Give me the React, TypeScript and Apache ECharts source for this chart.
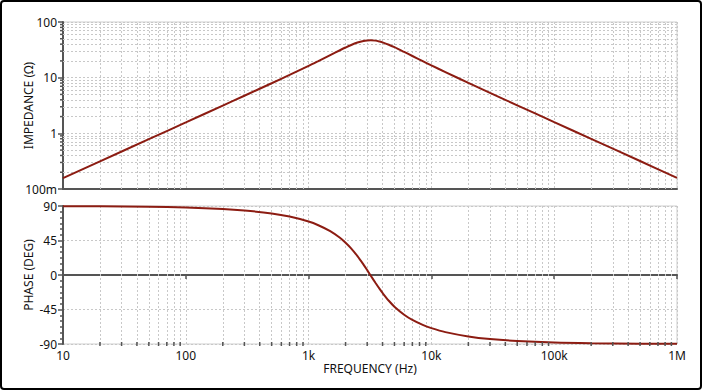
import React, { useEffect, useRef } from "react";
import * as echarts from "echarts";

// Frequency points (Hz)
const freq = [10, 20, 50, 100, 200, 300, 500, 700, 1000, 1200, 1500, 1800, 2000, 2200, 2500, 2800, 3000, 3200, 3500, 3800, 4000, 4500, 5000, 6000, 7000, 8500, 10000, 13000, 20000, 30000, 50000, 100000, 200000, 500000, 1000000];
// Impedance magnitude (ohm)
const impedance = [0.157, 0.314, 0.785, 1.57, 3.15, 4.73, 7.94, 11.2, 16.3, 19.9, 25.5, 31.1, 34.8, 38.3, 42.7, 45.7, 46.7, 47.0, 46.3, 44.5, 43.1, 39.1, 35.3, 29.0, 24.5, 19.8, 16.6, 12.6, 8.04, 5.33, 3.19, 1.59, 0.796, 0.318, 0.159];
// Phase (deg)
const phase = [89.8, 89.6, 89.0, 88.1, 86.2, 84.2, 80.3, 76.2, 69.7, 64.9, 57.2, 48.5, 42.1, 35.4, 24.6, 13.6, 6.4, -0.6, -10.1, -18.5, -23.4, -33.6, -41.3, -51.8, -58.6, -65.1, -69.3, -74.5, -80.1, -83.5, -86.1, -88.1, -89.0, -89.6, -89.8];

// Axis tick positions
const freqDecades = [10, 100, 1000, 10000, 100000];
const impDecades = [0.1, 1, 10];
const minorMult = [2, 3, 4, 5, 6, 7, 8, 9];

const freqMinor: number[] = [];
freqDecades.forEach((d) => minorMult.forEach((m) => freqMinor.push(+(d * m).toPrecision(6))));
const impMinor: number[] = [];
impDecades.forEach((d) => minorMult.forEach((m) => impMinor.push(+(d * m).toPrecision(6))));

const LINE_COLOR = "#8c1c12";
const AXIS_COLOR = "#555555";
const GRID_COLOR = "#c8c8c8";
const FONT = "Noto Sans";

const gridLineStyle = { color: GRID_COLOR, width: 1, type: [2, 2] as number[] };

function freqLabel(v: number): string {
  if (v >= 1e6) return Math.round(v / 1e6) + "M";
  if (v >= 1e3) return Math.round(v / 1e3) + "k";
  return String(Math.round(v));
}
function impLabel(v: number): string {
  if (v < 1) return Math.round(v * 1000) + "m";
  return String(Math.round(v));
}

const minorMarkLine = (vertical: number[], horizontal: number[]) => ({
  silent: true,
  symbol: ["none", "none"],
  label: { show: false },
  emphasis: { disabled: true },
  animation: false,
  lineStyle: gridLineStyle,
  data: [
    ...vertical.map((v) => ({ xAxis: v })),
    ...horizontal.map((v) => ({ yAxis: v })),
  ],
});

export default function App() {
  const ref = useRef<HTMLDivElement>(null);
  useEffect(() => {
    document.body.style.margin = "0";
    if (!ref.current) return;
    const chart = echarts.init(ref.current, undefined, { renderer: "svg" });
    const labelStyle = { color: "#111", fontSize: 12, fontFamily: FONT };
    chart.setOption({
      animation: false,
      textStyle: { fontFamily: FONT },
      grid: [
        { left: 63, top: 22, width: 614, height: 167, show: true, borderColor: "#cfcfcf", borderWidth: 1, backgroundColor: "transparent" },
        { left: 63, top: 206, width: 614, height: 138, show: true, borderColor: "#cfcfcf", borderWidth: 1, backgroundColor: "transparent" },
      ],
      xAxis: [
        {
          type: "log", logBase: 10, gridIndex: 0, min: 10, max: 1e6, splitNumber: 5,
          axisLine: { lineStyle: { color: AXIS_COLOR, width: 2 } },
          axisTick: { show: false },
          axisLabel: { show: false },
          splitLine: { show: true, lineStyle: gridLineStyle },
        },
        {
          type: "log", logBase: 10, gridIndex: 1, min: 10, max: 1e6, splitNumber: 5,
          axisLine: { lineStyle: { color: AXIS_COLOR, width: 2 } },
          axisTick: { show: true, length: 4, lineStyle: { color: AXIS_COLOR, width: 1.5 } },
          axisLabel: { ...labelStyle, margin: 5, formatter: (v: number) => freqLabel(v) },
          splitLine: { show: true, lineStyle: gridLineStyle },
          name: "FREQUENCY (Hz)", nameLocation: "middle", nameGap: 18, nameMoveOverlap: false,
          nameTextStyle: { ...labelStyle },
        },
      ],
      yAxis: [
        {
          type: "log", logBase: 10, gridIndex: 0, min: 0.1, max: 100,
          axisLine: { lineStyle: { color: AXIS_COLOR, width: 2 } },
          axisTick: { show: true, length: 5, lineStyle: { color: AXIS_COLOR, width: 1.5 } },
          axisLabel: { ...labelStyle, margin: 6, formatter: (v: number) => impLabel(v) },
          splitLine: { show: true, lineStyle: gridLineStyle },
          name: "IMPEDANCE (Ω)", nameLocation: "middle", nameGap: 29, nameRotate: 90, nameMoveOverlap: false,
          nameTextStyle: { ...labelStyle },
        },
        {
          type: "value", gridIndex: 1, min: -90, max: 90, interval: 45,
          axisLine: { lineStyle: { color: AXIS_COLOR, width: 2 } },
          axisTick: { show: true, length: 5, lineStyle: { color: AXIS_COLOR, width: 1.5 } },
          minorTick: { show: true, splitNumber: 6, length: 3, lineStyle: { color: AXIS_COLOR, width: 1.5 } },
          axisLabel: { ...labelStyle, margin: 6 },
          splitLine: { show: true, lineStyle: gridLineStyle },
          name: "PHASE (DEG)", nameLocation: "middle", nameGap: 29, nameRotate: 90, nameMoveOverlap: false,
          nameTextStyle: { ...labelStyle },
        },
      ],
      series: [
        {
          type: "line", xAxisIndex: 0, yAxisIndex: 0, smooth: 0.3, showSymbol: false, symbol: "none",
          lineStyle: { color: LINE_COLOR, width: 2 },
          data: freq.map((f, i) => [f, impedance[i]]),
          markLine: minorMarkLine(freqMinor, impMinor),
          z: 5,
        },
        {
          type: "line", xAxisIndex: 1, yAxisIndex: 1, smooth: 0.3, showSymbol: false, symbol: "none",
          lineStyle: { color: LINE_COLOR, width: 2 },
          data: freq.map((f, i) => [f, phase[i]]),
          markLine: minorMarkLine(freqMinor, []),
          z: 5,
        },
        {
          // minor ticks on impedance axis (log)
          type: "custom", xAxisIndex: 0, yAxisIndex: 0, silent: true, clip: false,
          data: impMinor.map((v) => [10, v]),
          renderItem: (_p: any, api: any) => {
            const p = api.coord([api.value(0), api.value(1)]);
            return {
              type: "line",
              shape: { x1: p[0] - 3, y1: p[1], x2: p[0], y2: p[1] },
              style: { stroke: AXIS_COLOR, lineWidth: 1.5 },
            };
          },
          z: 6,
        },
        {
          // minor ticks on frequency axis (log)
          type: "custom", xAxisIndex: 1, yAxisIndex: 1, silent: true, clip: false,
          data: freqMinor.map((f) => [f, -90]),
          renderItem: (_p: any, api: any) => {
            const p = api.coord([api.value(0), api.value(1)]);
            return {
              type: "line",
              shape: { x1: p[0], y1: p[1] - 2, x2: p[0], y2: p[1] + 2 },
              style: { stroke: AXIS_COLOR, lineWidth: 1.5 },
            };
          },
          z: 6,
        },
      ],
    });
    return () => chart.dispose();
  }, []);
  return (
    <div style={{ position: "relative", width: 702, height: 390, background: "#fff" }}>
      <div ref={ref} style={{ position: "absolute", left: 0, top: 0, width: 702, height: 390 }} />
      <div
        style={{
          position: "absolute", left: 0, top: 0, width: 702, height: 390,
          border: "2px solid #000", borderRadius: 4, boxSizing: "border-box", pointerEvents: "none",
        }}
      />
    </div>
  );
}
